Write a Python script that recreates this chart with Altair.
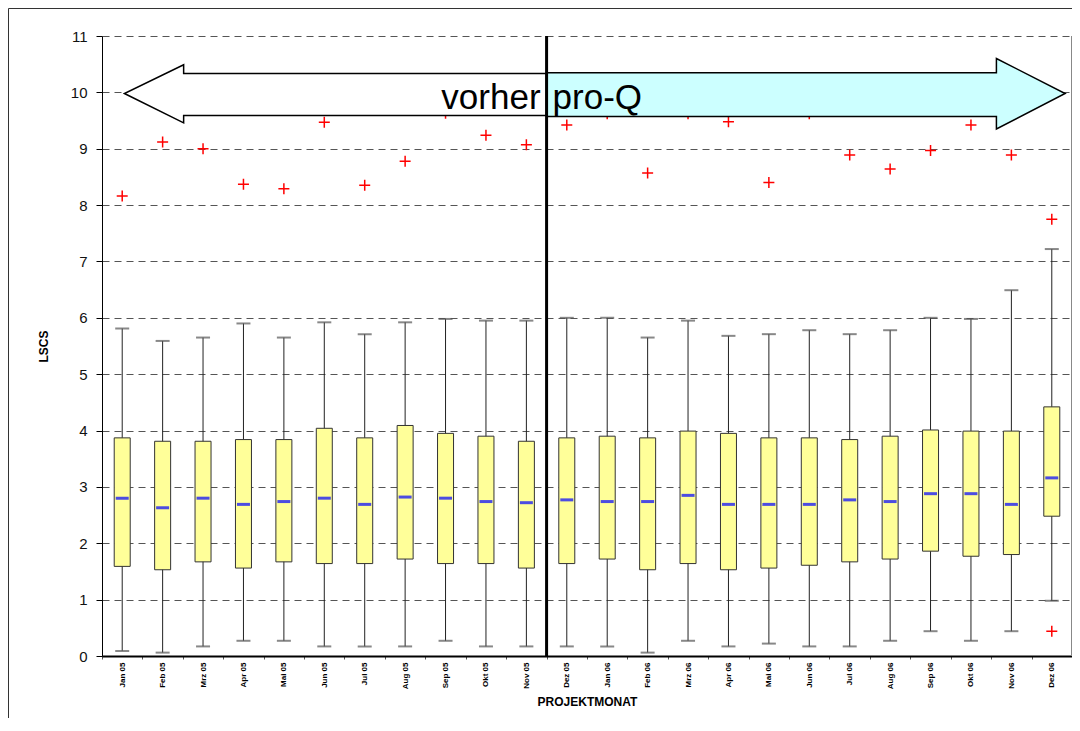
import altair as alt
import pandas as pd

# ---- data ----
months = ["Jan 05", "Feb 05", "Mrz 05", "Apr 05", "Mai 05", "Jun 05", "Jul 05", "Aug 05",
          "Sep 05", "Okt 05", "Nov 05", "Dez 05", "Jan 06", "Feb 06", "Mrz 06", "Apr 06",
          "Mai 06", "Jun 06", "Jul 06", "Aug 06", "Sep 06", "Okt 06", "Nov 06", "Dez 06"]
whisker_lo = [0.09, 0.06, 0.17, 0.27, 0.27, 0.17, 0.17, 0.17, 0.27, 0.17, 0.17, 0.17,
              0.17, 0.06, 0.27, 0.17, 0.22, 0.17, 0.17, 0.27, 0.44, 0.27, 0.44, 0.98]
quart1 = [1.59, 1.53, 1.67, 1.56, 1.67, 1.64, 1.64, 1.72, 1.64, 1.64, 1.56, 1.64,
          1.72, 1.53, 1.64, 1.53, 1.56, 1.61, 1.67, 1.72, 1.86, 1.77, 1.80, 2.48]
medians = [2.80, 2.63, 2.80, 2.69, 2.74, 2.80, 2.69, 2.82, 2.80, 2.74, 2.72, 2.77,
           2.74, 2.74, 2.85, 2.69, 2.69, 2.69, 2.77, 2.74, 2.88, 2.88, 2.69, 3.16]
quart3 = [3.87, 3.81, 3.81, 3.84, 3.84, 4.04, 3.87, 4.09, 3.95, 3.90, 3.81, 3.87,
          3.90, 3.87, 3.99, 3.95, 3.87, 3.87, 3.84, 3.90, 4.01, 3.99, 3.99, 4.42]
whisker_hi = [5.81, 5.59, 5.65, 5.90, 5.65, 5.92, 5.71, 5.92, 5.98, 5.95, 5.95, 6.00,
              6.00, 5.65, 5.95, 5.68, 5.71, 5.78, 5.71, 5.78, 6.00, 5.98, 6.49, 7.22]
outlier_month = months + ["Dez 06"]
outlier_value = [8.16, 9.12, 9.00, 8.37, 8.29, 9.47, 8.35, 8.78, 9.63, 9.24, 9.07, 9.42,
                 9.62, 8.57, 9.62, 9.48, 8.40, 9.62, 8.89, 8.64, 8.97, 9.42, 8.89, 7.75,
                 0.44]

# annotation arrows (data units: x = month slot 0..24, y = LSCS)
left_arrow_x = [0.555, 2.02, 2.0201, 11.0]
left_arrow_lo = [9.98, 9.46, 9.59, 9.59]
left_arrow_hi = [9.98, 10.49, 10.335, 10.335]
right_arrow_x = [11.0, 22.1299, 22.13, 23.83]
right_arrow_lo = [9.57, 9.57, 9.35, 9.98]
right_arrow_hi = [10.35, 10.35, 10.60, 9.98]
split_at = 11
label_left = "vorher"
label_right = "pro-Q"

FONT = "Liberation Sans"

box_df = pd.DataFrame({"month": months, "lo": whisker_lo, "q1": quart1,
                       "med": medians, "q3": quart3, "hi": whisker_hi})
out_df = pd.DataFrame({"month": outlier_month, "val": outlier_value})
la_df = pd.DataFrame({"x": left_arrow_x, "y": left_arrow_lo, "y2": left_arrow_hi})
ra_df = pd.DataFrame({"x": right_arrow_x, "y": right_arrow_lo, "y2": right_arrow_hi})
one = pd.DataFrame({"a": [0]})

yscale = alt.Scale(domain=[0, 11], nice=False, zero=True)
yaxis = alt.Axis(values=list(range(12)), format="d", grid=True, gridDash=[7, 5],
                 gridColor="#555", gridWidth=1, tickSize=6, tickColor="black",
                 domainColor="black", domainWidth=1, labelFont=FONT, labelFontSize=15,
                 labelColor="#111", labelPadding=9, titleFont=FONT, titleFontSize=12,
                 titleFontWeight="bold", titleColor="black", titlePadding=20)


def Y(field):
    return alt.Y(field, type="quantitative", scale=yscale, axis=yaxis, title="LSCS",
                 stack=None)


xband = alt.X("month:N", scale=alt.Scale(domain=months, paddingInner=0, paddingOuter=0),
              title="PROJEKTMONAT",
              axis=alt.Axis(tickBand="extent", labelAngle=270, labelFont=FONT,
                            labelFontSize=8, labelFontWeight="bold", labelColor="black",
                            labelPadding=3, tickSize=3, tickColor="#555",
                            domainColor="black", domainWidth=2, grid=False,
                            titleFont=FONT, titleFontSize=12, titleFontWeight="bold",
                            titleColor="black", titlePadding=8))

base = alt.Chart(box_df)
whiskers = base.mark_rule(color="#222", strokeWidth=1).encode(
    x=xband, y=Y("lo"), y2="hi")
boxes = base.mark_bar(size=16, fill="#FFFF99", stroke="#333", strokeWidth=1).encode(
    x=xband, y=Y("q1"), y2="q3")
cap_lo = base.mark_tick(color="#555", thickness=2, size=14).encode(x=xband, y=Y("lo"))
cap_hi = base.mark_tick(color="#555", thickness=2, size=14).encode(x=xband, y=Y("hi"))
med_tick = base.mark_tick(color="#0000FF", thickness=3, size=13).encode(
    x=xband, y=Y("med"))
outliers = alt.Chart(out_df).mark_point(
    shape="M-1,0L1,0M0,-1L0,1", filled=False, stroke="#FF0000", strokeWidth=1.5,
    size=121, opacity=1).encode(x=xband, y=Y("val"))

band_layer = alt.layer(whiskers, boxes, cap_lo, cap_hi, med_tick, outliers)

xq = alt.X("x:Q", scale=alt.Scale(domain=[0, 24], nice=False, zero=False), axis=None)

left_arrow = alt.Chart(la_df).mark_area(
    fill="white", stroke="black", strokeWidth=1.5, interpolate="linear").encode(
    x=xq, y=Y("y"), y2="y2")
right_arrow = alt.Chart(ra_df).mark_area(
    fill="#CCFFFF", stroke="black", strokeWidth=1.5, interpolate="linear").encode(
    x=xq, y=Y("y"), y2="y2")

divider = alt.Chart(one).mark_rule(color="black", strokeWidth=3).encode(
    x=alt.datum(split_at), y=alt.datum(0), y2=alt.datum(11))
right_border = alt.Chart(one).mark_rule(color="#888", strokeWidth=2).encode(
    x=alt.datum(24), y=alt.datum(0), y2=alt.datum(11))
txt_left = alt.Chart(one).mark_text(
    align="right", baseline="alphabetic", font=FONT, fontSize=35, dx=-6,
    color="black").encode(x=alt.datum(split_at), y=alt.datum(9.7),
                          text=alt.value(label_left))
txt_right = alt.Chart(one).mark_text(
    align="left", baseline="alphabetic", font=FONT, fontSize=35, dx=6,
    color="black").encode(x=alt.datum(split_at), y=alt.datum(9.7),
                          text=alt.value(label_right))
frame = alt.Chart(one).mark_rect(fillOpacity=0, stroke="#333", strokeWidth=1).encode(
    x=alt.value(-93.5), x2=alt.value(1200), y=alt.value(-27.5), y2=alt.value(900))

quant_layer = alt.layer(left_arrow, right_arrow, divider, right_border,
                        txt_left, txt_right, frame)

chart = alt.layer(band_layer, quant_layer).resolve_scale(x="independent").properties(
    width=970, height=620,
    padding={"left": 94, "top": 28, "right": 0, "bottom": 62},
    autosize=alt.AutoSizeParams(type="none"),
    background="white",
).configure_view(stroke=None)

chart.save("out.html", embed_options={"renderer": "svg", "actions": False})
